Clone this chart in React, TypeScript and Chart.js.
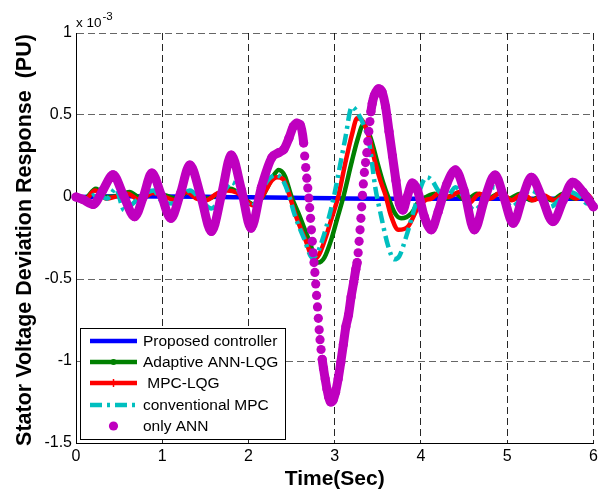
import React, { useEffect, useRef } from 'react';
import { Chart, registerables } from 'chart.js';

Chart.register(...registerables);

// ---- axis / text ----
const X_MIN = 0;
const X_MAX = 6;
const Y_MIN = -1.5;
const Y_MAX = 1;
const X_STEP = 1;
const Y_STEP = 0.5;
const X_TITLE = 'Time(Sec)';
const Y_TITLE = 'Stator Voltage Deviation Response  (PU)';
const Y_EXPONENT_BASE = 'x 10';
const Y_EXPONENT = '-3';
const SERIES_LABELS = ['Proposed controller', 'Adaptive ANN-LQG', ' MPC-LQG', 'conventional MPC', 'only ANN'];

// ---- data (values in units of 1e-3 PU) ----
const proposedT = [0, 0.5, 1, 1.5, 2, 2.5, 3, 3.5, 4, 4.5, 5, 5.5, 6];
const proposedV = [0, 0.004, 0.003, 0.001, -0.002, -0.005, -0.008, -0.01, -0.01, -0.01, -0.01, -0.01, -0.012];

const annLqgT = [0, 0.1, 0.23, 0.36, 0.5, 0.62, 0.76, 0.9, 1.04, 1.17, 1.3, 1.42, 1.54, 1.67, 1.79, 1.9, 2.0, 2.08, 2.15, 2.22, 2.29, 2.35, 2.42, 2.5, 2.58, 2.7, 2.81, 2.88, 2.96, 3.03, 3.1, 3.2, 3.27, 3.33, 3.41, 3.5, 3.56, 3.62, 3.7, 3.77, 3.89, 3.97, 4.06, 4.16, 4.28, 4.4, 4.52, 4.65, 4.78, 4.9, 5.02, 5.15, 5.28, 5.4, 5.52, 5.65, 5.78, 5.9, 6.0];
const annLqgV = [0, -0.01, 0.05, 0, 0.01, 0.03, -0.01, 0.03, 0.01, -0.01, 0.03, 0, -0.01, 0.03, 0.05, 0.02, -0.03, -0.05, -0.01, 0.06, 0.13, 0.165, 0.13, 0, -0.1, -0.26, -0.4, -0.37, -0.26, -0.13, 0, 0.22, 0.36, 0.44, 0.37, 0.2, 0.09, 0, -0.1, -0.13, -0.1, -0.03, 0, 0.02, -0.01, 0.02, -0.02, 0.02, -0.01, 0.02, -0.01, 0.02, -0.02, 0.01, -0.02, 0.02, -0.01, 0.01, -0.02];

const mpcLqgT = [0, 0.1, 0.22, 0.35, 0.48, 0.6, 0.74, 0.89, 1.03, 1.16, 1.28, 1.4, 1.51, 1.63, 1.75, 1.87, 1.97, 2.05, 2.12, 2.2, 2.27, 2.33, 2.4, 2.47, 2.54, 2.66, 2.76, 2.82, 2.9, 2.97, 3.04, 3.12, 3.2, 3.26, 3.33, 3.4, 3.47, 3.53, 3.59, 3.65, 3.74, 3.85, 3.97, 4.05, 4.12, 4.23, 4.33, 4.44, 4.55, 4.68, 4.8, 4.93, 5.05, 5.18, 5.3, 5.42, 5.55, 5.68, 5.8, 5.92, 6.0];
const mpcLqgV = [0, -0.02, 0.04, -0.01, 0.005, 0.02, -0.02, 0.025, 0, -0.02, 0.03, -0.01, -0.02, 0.02, 0.04, 0.025, -0.02, -0.05, -0.03, 0.04, 0.1, 0.12, 0.11, 0.02, -0.1, -0.26, -0.38, -0.35, -0.24, -0.12, 0, 0.2, 0.38, 0.48, 0.46, 0.36, 0.21, 0.1, 0.01, -0.11, -0.2, -0.18, -0.06, -0.02, -0.01, 0.03, 0, 0.03, -0.04, 0.02, -0.01, 0.03, -0.02, 0.02, -0.02, 0.01, -0.02, 0.02, -0.01, 0.02, -0.03];

const convMpcT = [0, 0.12, 0.25, 0.36, 0.46, 0.56, 0.68, 0.8, 0.9, 1.0, 1.12, 1.22, 1.32, 1.45, 1.57, 1.7, 1.81, 1.93, 2.03, 2.12, 2.22, 2.32, 2.4, 2.47, 2.53, 2.65, 2.74, 2.8, 2.87, 2.93, 2.99, 3.05, 3.12, 3.2, 3.28, 3.35, 3.4, 3.47, 3.54, 3.62, 3.69, 3.75, 3.83, 3.93, 4.03, 4.07, 4.13, 4.2, 4.3, 4.4, 4.5, 4.62, 4.73, 4.85, 4.95, 5.05, 5.15, 5.27, 5.4, 5.5, 5.62, 5.73, 5.85, 5.93, 6.0];
const convMpcV = [0, -0.01, 0.02, -0.01, 0.05, -0.08, -0.03, 0.02, 0.04, -0.03, -0.04, 0, 0.04, -0.02, -0.07, 0.02, 0.09, 0, -0.06, 0, 0.1, 0.135, 0.1, 0.01, -0.1, -0.26, -0.37, -0.34, -0.24, -0.13, 0, 0.16, 0.35, 0.55, 0.5, 0.42, 0.33, 0.06, -0.12, -0.3, -0.38, -0.36, -0.24, -0.06, 0.1, 0.12, 0.1, 0.04, 0, 0.06, 0, -0.08, -0.02, 0.06, 0.02, -0.06, -0.02, 0.04, 0, -0.06, -0.01, 0.03, 0, -0.04, -0.02];

const onlyAnnT = [0, 0.08, 0.2, 0.31, 0.43, 0.55, 0.68, 0.78, 0.88, 0.99, 1.1, 1.21, 1.32, 1.45, 1.57, 1.69, 1.8, 1.92, 2.03, 2.15, 2.27, 2.35, 2.41, 2.47, 2.52, 2.56, 2.6, 2.64, 2.652, 2.664, 2.676, 2.688, 2.7, 2.71, 2.72, 2.73, 2.74, 2.75, 2.76, 2.77, 2.78, 2.79, 2.8, 2.81, 2.82, 2.83, 2.842, 2.855, 2.87, 2.89, 2.91, 2.93, 2.955, 2.98, 3.01, 3.04, 3.07, 3.1, 3.13, 3.16, 3.19, 3.22, 3.245, 3.26, 3.272, 3.283, 3.294, 3.304, 3.313, 3.322, 3.332, 3.344, 3.358, 3.372, 3.384, 3.396, 3.408, 3.42, 3.435, 3.46, 3.51, 3.55, 3.59, 3.63, 3.67, 3.71, 3.75, 3.79, 3.84, 3.9, 3.96, 4.04, 4.12, 4.2, 4.3, 4.4, 4.5, 4.62, 4.74, 4.86, 4.96, 5.07, 5.18, 5.28, 5.4, 5.53, 5.65, 5.76, 5.88, 6.0];
const onlyAnnV = [0, -0.015, -0.045, 0.04, 0.135, 0.01, -0.12, 0, 0.146, 0.01, -0.13, 0.02, 0.195, 0, -0.21, 0.02, 0.256, 0.04, -0.19, 0.06, 0.24, 0.27, 0.29, 0.36, 0.43, 0.45, 0.44, 0.33, 0.25, 0.18, 0.115, 0.055, -0.006, -0.065, -0.13, -0.2, -0.27, -0.34, -0.4, -0.46, -0.53, -0.6, -0.67, -0.74, -0.81, -0.87, -0.93, -0.99, -1.045, -1.11, -1.17, -1.22, -1.25, -1.24, -1.19, -1.11, -1.01, -0.9, -0.79, -0.72, -0.61, -0.52, -0.44, -0.4, -0.34, -0.27, -0.2, -0.13, -0.06, 0.01, 0.08, 0.15, 0.21, 0.27, 0.34, 0.4, 0.46, 0.52, 0.57, 0.62, 0.66, 0.64, 0.55, 0.4, 0.25, 0.1, -0.04, -0.08, 0, 0.085, 0.04, -0.12, -0.2, -0.09, 0.08, 0.165, 0.04, -0.2, -0.01, 0.134, 0, -0.16, 0, 0.12, 0, -0.15, -0.02, 0.09, 0.03, -0.06];

// ---- styles ----
const FONT = '"Liberation Sans", Arial, Helvetica, sans-serif';
const C_BLUE = '#0000ff';
const C_GREEN = '#008000';
const C_RED = '#ff0000';
const C_CYAN = '#00bfbf';
const C_MAGENTA = '#bf00bf';
const CYAN_DASH = [12, 5, 3, 5];
const DOT_ONLY_SLOPE = 4.2; // marker-only where the sampled response moves fast

function pts(t: number[], v: number[]) {
  const n = Math.min(t.length, v.length);
  const out: { x: number; y: number }[] = [];
  for (let i = 0; i < n; i++) out.push({ x: t[i], y: v[i] });
  return out;
}

const overlayPlugin = {
  id: 'overlay',
  afterDraw(chart: any) {
    const { ctx, chartArea } = chart;
    ctx.save();
    ctx.fillStyle = '#000';
    // exponent label
    ctx.textAlign = 'left';
    ctx.textBaseline = 'alphabetic';
    ctx.font = `13.5px ${FONT}`;
    ctx.fillText(Y_EXPONENT_BASE, chartArea.left, 27);
    const w = ctx.measureText(Y_EXPONENT_BASE).width;
    ctx.font = `11.5px ${FONT}`;
    ctx.fillText(Y_EXPONENT, chartArea.left + w + 1, 20);

    // axis titles
    ctx.font = `bold 21px ${FONT}`;
    ctx.textAlign = 'center';
    ctx.textBaseline = 'middle';
    ctx.fillText(X_TITLE, (chartArea.left + chartArea.right) / 2, 479);
    ctx.save();
    ctx.translate(25, 240);
    ctx.rotate(-Math.PI / 2);
    ctx.font = `bold 21.5px ${FONT}`;
    ctx.fillText(Y_TITLE, 0, 0);
    ctx.restore();

    // legend
    const bx = 80, by = 328, bw = 205, bh = 111;
    ctx.fillStyle = '#fff';
    ctx.fillRect(bx, by, bw, bh);
    ctx.strokeStyle = '#000';
    ctx.lineWidth = 1;
    ctx.strokeRect(bx + 0.5, by + 0.5, bw, bh);
    const rowY0 = 341, rowDy = 21.2, x0 = 90, x1 = 137, tx = 143;
    const ds = chart.data.datasets;
    ds.forEach((d: any, i: number) => {
      const y = Math.round(rowY0 + i * rowDy);
      ctx.save();
      if (i < 4) {
        ctx.strokeStyle = d.borderColor;
        ctx.lineWidth = 4.5;
        ctx.setLineDash(d.borderDash || []);
        ctx.beginPath();
        ctx.moveTo(x0, y);
        ctx.lineTo(x1, y);
        ctx.stroke();
        ctx.setLineDash([]);
        if (i === 1) {
          ctx.fillStyle = d.borderColor;
          ctx.beginPath();
          ctx.arc((x0 + x1) / 2, y, 3, 0, Math.PI * 2);
          ctx.fill();
        }
        if (i === 2) {
          ctx.strokeStyle = d.borderColor;
          ctx.lineWidth = 1.5;
          ctx.beginPath();
          ctx.moveTo((x0 + x1) / 2, y - 4);
          ctx.lineTo((x0 + x1) / 2, y + 4);
          ctx.stroke();
        }
      } else {
        ctx.fillStyle = d.pointBackgroundColor;
        ctx.beginPath();
        ctx.arc((x0 + x1) / 2, y, 4.6, 0, Math.PI * 2);
        ctx.fill();
      }
      ctx.restore();
      ctx.fillStyle = '#000';
      ctx.font = `15.5px ${FONT}`;
      ctx.textAlign = 'left';
      ctx.textBaseline = 'middle';
      ctx.fillText(d.label, tx, y + 1);
    });
    ctx.restore();
  },
};

export default function App() {
  const canvasRef = useRef<HTMLCanvasElement | null>(null);

  useEffect(() => {
    if (!canvasRef.current) return;
    const chart = new Chart(canvasRef.current, {
      type: 'line',
      data: {
        datasets: [
          {
            label: SERIES_LABELS[0],
            data: pts(proposedT, proposedV),
            borderColor: C_BLUE,
            backgroundColor: C_BLUE,
            borderWidth: 4.5,
            pointRadius: 0,
            cubicInterpolationMode: 'monotone',
            order: 4,
          },
          {
            label: SERIES_LABELS[1],
            data: pts(annLqgT, annLqgV),
            borderColor: C_GREEN,
            backgroundColor: C_GREEN,
            borderWidth: 4.5,
            pointRadius: 0,
            cubicInterpolationMode: 'monotone',
            order: 3,
          },
          {
            label: SERIES_LABELS[2],
            data: pts(mpcLqgT, mpcLqgV),
            borderColor: C_RED,
            backgroundColor: C_RED,
            borderWidth: 4.5,
            pointRadius: 0,
            cubicInterpolationMode: 'monotone',
            order: 2,
          },
          {
            label: SERIES_LABELS[3],
            data: pts(convMpcT, convMpcV),
            borderColor: C_CYAN,
            backgroundColor: C_CYAN,
            borderWidth: 4.5,
            borderDash: CYAN_DASH,
            pointRadius: 0,
            cubicInterpolationMode: 'monotone',
            order: 1,
          },
          {
            label: SERIES_LABELS[4],
            data: pts(onlyAnnT, onlyAnnV),
            borderColor: C_MAGENTA,
            backgroundColor: C_MAGENTA,
            pointBackgroundColor: C_MAGENTA,
            pointBorderWidth: 0,
            pointRadius: 4.6,
            borderWidth: 9,
            borderCapStyle: 'round',
            borderJoinStyle: 'round',
            cubicInterpolationMode: 'monotone',
            clip: false,
            order: 0,
            segment: {
              borderColor: (c: any) => {
                const i0 = c.p0DataIndex, i1 = c.p1DataIndex;
                const dt = onlyAnnT[i1] - onlyAnnT[i0];
                const slope = Math.abs((onlyAnnV[i1] - onlyAnnV[i0]) / dt);
                return slope > DOT_ONLY_SLOPE ? 'rgba(0,0,0,0)' : undefined;
              },
            },
          } as any,
        ],
      },
      options: {
        animation: false,
        responsive: false,
        devicePixelRatio: 1,
        layout: { padding: { left: 0, right: 2, top: 33, bottom: 0 } },
        plugins: { legend: { display: false }, tooltip: { enabled: false } },
        elements: { line: { tension: 0 } },
        scales: {
          x: {
            type: 'linear',
            min: X_MIN,
            max: X_MAX,
            afterFit: (s: any) => { s.height = 52; s.paddingLeft = 0; s.paddingRight = 0; },
            ticks: { stepSize: X_STEP, autoSkip: false, maxRotation: 0, color: '#000', padding: 4, font: { size: 16, family: FONT }, callback: (v: any) => String(v) },
            grid: { color: 'rgba(0,0,0,0.85)', lineWidth: 1, drawTicks: false },
            border: { display: true, color: '#000', width: 1, dash: [7, 4] },
            title: { display: false },
          },
          y: {
            type: 'linear',
            min: Y_MIN,
            max: Y_MAX,
            afterFit: (s: any) => { s.width = 76; s.paddingTop = 0; s.paddingBottom = 0; },
            ticks: { stepSize: Y_STEP, autoSkip: false, color: '#000', padding: 4, font: { size: 16, family: FONT }, callback: (v: any) => String(v) },
            grid: { color: 'rgba(0,0,0,0.6)', lineWidth: 1, drawTicks: false },
            border: { display: true, color: '#000', width: 1, dash: [7, 4] },
            title: { display: false },
          },
        },
      } as any,
      plugins: [overlayPlugin],
    });
    return () => chart.destroy();
  }, []);

  return (
    <div style={{ position: 'absolute', left: 0, top: 0, width: 598, height: 495, background: '#fff' }}>
      <canvas ref={canvasRef} width={598} height={495} style={{ display: 'block', width: 598, height: 495 }} />
    </div>
  );
}
